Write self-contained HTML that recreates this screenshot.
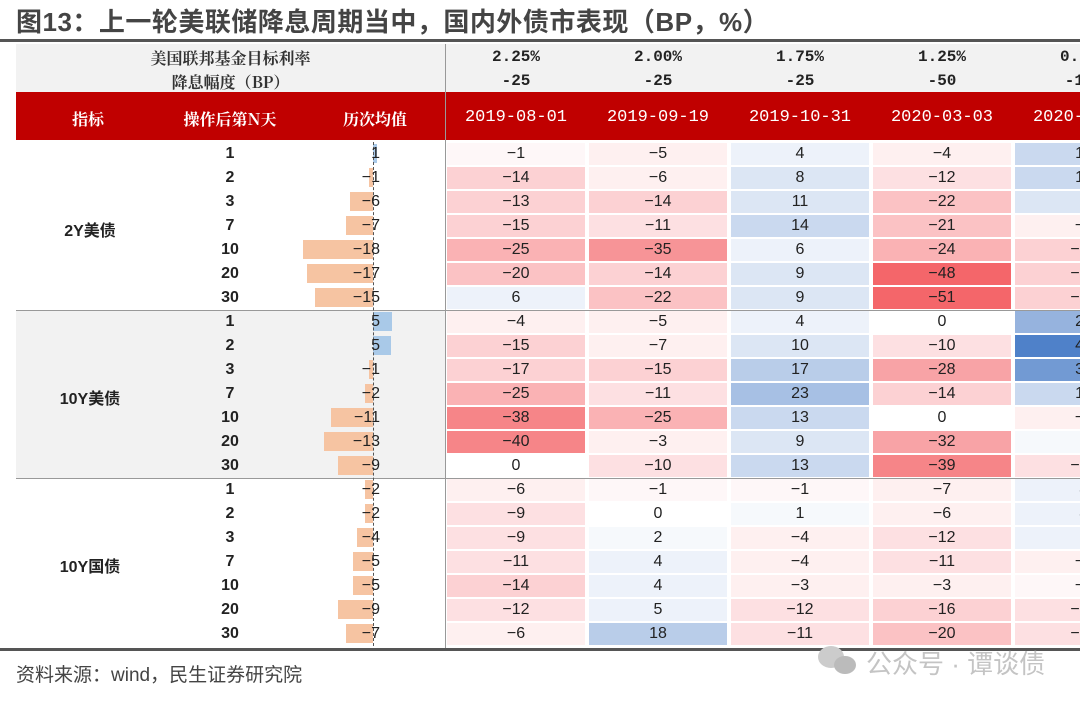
<!DOCTYPE html>
<html><head><meta charset="utf-8"><style>
*{margin:0;padding:0;box-sizing:border-box}
html,body{width:1080px;height:708px;overflow:hidden}
body{background:#fff;position:relative;font-family:"Liberation Sans","Noto Sans CJK SC",sans-serif;color:#222}
.abs{position:absolute}
#title{left:16px;top:2px;font-size:26px;font-weight:bold;color:#444;letter-spacing:0.5px;white-space:nowrap}
#tline{left:0;top:39px;width:1080px;height:3px;background:#555}
#hdr{left:16px;top:44px;width:1064px;height:48px;background:#f2f2f2}
.hs{font-family:"Noto Serif CJK SC",serif;font-weight:bold;font-size:16px;color:#333;text-align:center}
.hv{font-family:"Liberation Mono",monospace;font-weight:bold;font-size:16px;color:#222;text-align:center;width:142px}
#red{left:16px;top:92px;width:1064px;height:48px;background:#c00000}
.rh{color:#fff;font-family:"Noto Serif CJK SC",serif;font-weight:bold;font-size:16px;text-align:center;top:107px}
.rd{color:#fff;font-family:"Liberation Mono",monospace;font-size:17px;text-align:center;width:142px;top:108px}
.clip{overflow:hidden}
#gw{left:445px;top:142px;width:635px;height:506px;overflow:hidden}
#grid{display:grid;grid-template-columns:repeat(5,142px);grid-auto-rows:24px;width:710px}
#grid div{margin:1px 2px;text-align:center;line-height:22px;font-size:16px}
.z{background:#fff}
.r0{background:#fef7f8}.r1{background:#fef0f0}.r2{background:#fde0e2}.r3{background:#fcd1d3}.r4{background:#fbc2c4}.r5{background:#fab2b4}.r6{background:#f8a3a6}.r7{background:#f79497}.r8{background:#f68588}.r10{background:#f4666a}
.b0{background:#f6f9fc}.b1{background:#edf2fa}.b2{background:#dce6f4}.b3{background:#cad9ef}.b4{background:#b9cde9}.b5{background:#a7c0e4}.b6{background:#96b3de}.b7{background:#84a7d9}.b8{background:#729ad3}.b10{background:#4f81c9}
.n{left:200px;width:60px;text-align:center;font-size:16px;font-weight:bold;height:24px;line-height:24px}
.m{left:300px;width:80px;text-align:right;font-size:16px;height:24px;line-height:24px}
.bn{background:#f6c4a2;height:19px}
.bp{background:#a9c9e8;height:19px}
.g{left:20px;width:140px;text-align:center;font-weight:bold;font-size:16px}
</style></head><body>
<div id="title" class="abs">图13：上一轮美联储降息周期当中，国内外债市表现（BP，%）</div>
<div id="tline" class="abs"></div>
<div id="hdr" class="abs"></div>
<div class="abs hs" style="left:16px;top:46px;width:429px">美国联邦基金目标利率</div>
<div class="abs hs" style="left:16px;top:70px;width:429px">降息幅度（BP）</div>
<div class="abs hv" style="left:445px;top:48px">2.25%</div><div class="abs hv" style="left:445px;top:72px">-25</div>
<div class="abs hv" style="left:587px;top:48px">2.00%</div><div class="abs hv" style="left:587px;top:72px">-25</div>
<div class="abs hv" style="left:729px;top:48px">1.75%</div><div class="abs hv" style="left:729px;top:72px">-25</div>
<div class="abs hv" style="left:871px;top:48px">1.25%</div><div class="abs hv" style="left:871px;top:72px">-50</div>
<div class="abs clip" style="left:1013px;top:44px;width:67px;height:96px">
 <div class="abs hv" style="left:0;top:4px">0.25%</div><div class="abs hv" style="left:0;top:28px">-100</div>
</div>
<div id="red" class="abs"></div>
<div class="abs rh" style="left:48px;width:80px">指标</div>
<div class="abs rh" style="left:160px;width:140px">操作后第N天</div>
<div class="abs rh" style="left:310px;width:130px">历次均值</div>
<div class="abs rd" style="left:445px">2019-08-01</div>
<div class="abs rd" style="left:587px">2019-09-19</div>
<div class="abs rd" style="left:729px">2019-10-31</div>
<div class="abs rd" style="left:871px">2020-03-03</div>
<div class="abs clip" style="left:1013px;top:100px;width:67px;height:36px">
 <div class="abs rd" style="left:0;top:8px">2020-03-16</div>
</div>
<div class="abs" style="left:16px;top:310px;width:429px;height:168px;background:#f2f2f2"></div>
<div class="abs" style="left:16px;top:310px;width:1064px;height:1px;background:#999"></div>
<div class="abs" style="left:16px;top:478px;width:1064px;height:1px;background:#999"></div>
<div class="abs" style="left:445px;top:44px;width:1px;height:604px;background:#999"></div>
<div class="abs g" style="top:217px">2Y美债</div>
<div class="abs g" style="top:385px">10Y美债</div>
<div class="abs g" style="top:553px">10Y国债</div>
<div class="abs n" style="top:142px">1</div><div class="abs n" style="top:166px">2</div><div class="abs n" style="top:190px">3</div><div class="abs n" style="top:214px">7</div><div class="abs n" style="top:238px">10</div><div class="abs n" style="top:262px">20</div><div class="abs n" style="top:286px">30</div>
<div class="abs n" style="top:310px">1</div><div class="abs n" style="top:334px">2</div><div class="abs n" style="top:358px">3</div><div class="abs n" style="top:382px">7</div><div class="abs n" style="top:406px">10</div><div class="abs n" style="top:430px">20</div><div class="abs n" style="top:454px">30</div>
<div class="abs n" style="top:478px">1</div><div class="abs n" style="top:502px">2</div><div class="abs n" style="top:526px">3</div><div class="abs n" style="top:550px">7</div><div class="abs n" style="top:574px">10</div><div class="abs n" style="top:598px">20</div><div class="abs n" style="top:622px">30</div>
<div class="abs bp" style="left:373px;top:144px;width:4px"></div>
<div class="abs bn" style="left:369px;top:168px;width:4px"></div>
<div class="abs bn" style="left:350px;top:192px;width:23px"></div>
<div class="abs bn" style="left:346px;top:216px;width:27px"></div>
<div class="abs bn" style="left:303px;top:240px;width:70px"></div>
<div class="abs bn" style="left:307px;top:264px;width:66px"></div>
<div class="abs bn" style="left:315px;top:288px;width:58px"></div>
<div class="abs bp" style="left:373px;top:312px;width:19px"></div>
<div class="abs bp" style="left:373px;top:336px;width:18px"></div>
<div class="abs bn" style="left:369px;top:360px;width:4px"></div>
<div class="abs bn" style="left:365px;top:384px;width:8px"></div>
<div class="abs bn" style="left:331px;top:408px;width:42px"></div>
<div class="abs bn" style="left:324px;top:432px;width:49px"></div>
<div class="abs bn" style="left:338px;top:456px;width:35px"></div>
<div class="abs bn" style="left:365px;top:480px;width:8px"></div>
<div class="abs bn" style="left:365px;top:504px;width:8px"></div>
<div class="abs bn" style="left:357px;top:528px;width:16px"></div>
<div class="abs bn" style="left:353px;top:552px;width:20px"></div>
<div class="abs bn" style="left:353px;top:576px;width:20px"></div>
<div class="abs bn" style="left:338px;top:600px;width:35px"></div>
<div class="abs bn" style="left:346px;top:624px;width:27px"></div>
<div class="abs" style="left:373px;top:142px;width:0;height:504px;border-left:1px dashed #555"></div>
<div class="abs m" style="top:142px">1</div><div class="abs m" style="top:166px">−1</div><div class="abs m" style="top:190px">−6</div><div class="abs m" style="top:214px">−7</div><div class="abs m" style="top:238px">−18</div><div class="abs m" style="top:262px">−17</div><div class="abs m" style="top:286px">−15</div>
<div class="abs m" style="top:310px">5</div><div class="abs m" style="top:334px">5</div><div class="abs m" style="top:358px">−1</div><div class="abs m" style="top:382px">−2</div><div class="abs m" style="top:406px">−11</div><div class="abs m" style="top:430px">−13</div><div class="abs m" style="top:454px">−9</div>
<div class="abs m" style="top:478px">−2</div><div class="abs m" style="top:502px">−2</div><div class="abs m" style="top:526px">−4</div><div class="abs m" style="top:550px">−5</div><div class="abs m" style="top:574px">−5</div><div class="abs m" style="top:598px">−9</div><div class="abs m" style="top:622px">−7</div>
<div id="gw" class="abs"><div id="grid">
<div class="r0">−1</div><div class="r1">−5</div><div class="b1">4</div><div class="r1">−4</div><div class="b3">12</div>
<div class="r3">−14</div><div class="r1">−6</div><div class="b2">8</div><div class="r2">−12</div><div class="b3">14</div>
<div class="r3">−13</div><div class="r3">−14</div><div class="b2">11</div><div class="r4">−22</div><div class="b2">8</div>
<div class="r3">−15</div><div class="r2">−11</div><div class="b3">14</div><div class="r4">−21</div><div class="r1">−3</div>
<div class="r5">−25</div><div class="r7">−35</div><div class="b1">6</div><div class="r5">−24</div><div class="r3">−15</div>
<div class="r4">−20</div><div class="r3">−14</div><div class="b2">9</div><div class="r10">−48</div><div class="r3">−16</div>
<div class="b1">6</div><div class="r4">−22</div><div class="b2">9</div><div class="r10">−51</div><div class="r3">−14</div>
<div class="r1">−4</div><div class="r1">−5</div><div class="b1">4</div><div class="z">0</div><div class="b6">25</div>
<div class="r3">−15</div><div class="r1">−7</div><div class="b2">10</div><div class="r2">−10</div><div class="b10">45</div>
<div class="r3">−17</div><div class="r3">−15</div><div class="b4">17</div><div class="r6">−28</div><div class="b8">35</div>
<div class="r5">−25</div><div class="r2">−11</div><div class="b5">23</div><div class="r3">−14</div><div class="b3">14</div>
<div class="r8">−38</div><div class="r5">−25</div><div class="b3">13</div><div class="z">0</div><div class="r1">−4</div>
<div class="r8">−40</div><div class="r1">−3</div><div class="b2">9</div><div class="r6">−32</div><div class="b0">3</div>
<div class="z">0</div><div class="r2">−10</div><div class="b3">13</div><div class="r8">−39</div><div class="r2">−10</div>
<div class="r1">−6</div><div class="r0">−1</div><div class="r0">−1</div><div class="r1">−7</div><div class="b1">4</div>
<div class="r2">−9</div><div class="z">0</div><div class="b0">1</div><div class="r1">−6</div><div class="b1">4</div>
<div class="r2">−9</div><div class="b0">2</div><div class="r1">−4</div><div class="r2">−12</div><div class="b1">5</div>
<div class="r2">−11</div><div class="b1">4</div><div class="r1">−4</div><div class="r2">−11</div><div class="r1">−3</div>
<div class="r3">−14</div><div class="b1">4</div><div class="r1">−3</div><div class="r1">−3</div><div class="r0">−2</div>
<div class="r2">−12</div><div class="b1">5</div><div class="r2">−12</div><div class="r3">−16</div><div class="r2">−10</div>
<div class="r1">−6</div><div class="b4">18</div><div class="r2">−11</div><div class="r4">−20</div><div class="r2">−12</div>
</div></div>
<div class="abs" style="left:0;top:648px;width:1080px;height:3px;background:#555"></div>
<div class="abs" style="left:16px;top:660px;font-size:19px;color:#444;white-space:nowrap">资料来源：wind，民生证券研究院</div>
<div class="abs" style="left:818px;top:646px;width:26px;height:22px;border-radius:50%;background:#ccc"></div>
<div class="abs" style="left:834px;top:656px;width:22px;height:18px;border-radius:50%;background:#bbb"></div>
<div class="abs clip" style="left:866px;top:644px;width:214px;height:40px"><div style="font-size:26px;color:#c4c4c4;white-space:nowrap">公众号 · 谭谈债</div></div>
</body></html>
